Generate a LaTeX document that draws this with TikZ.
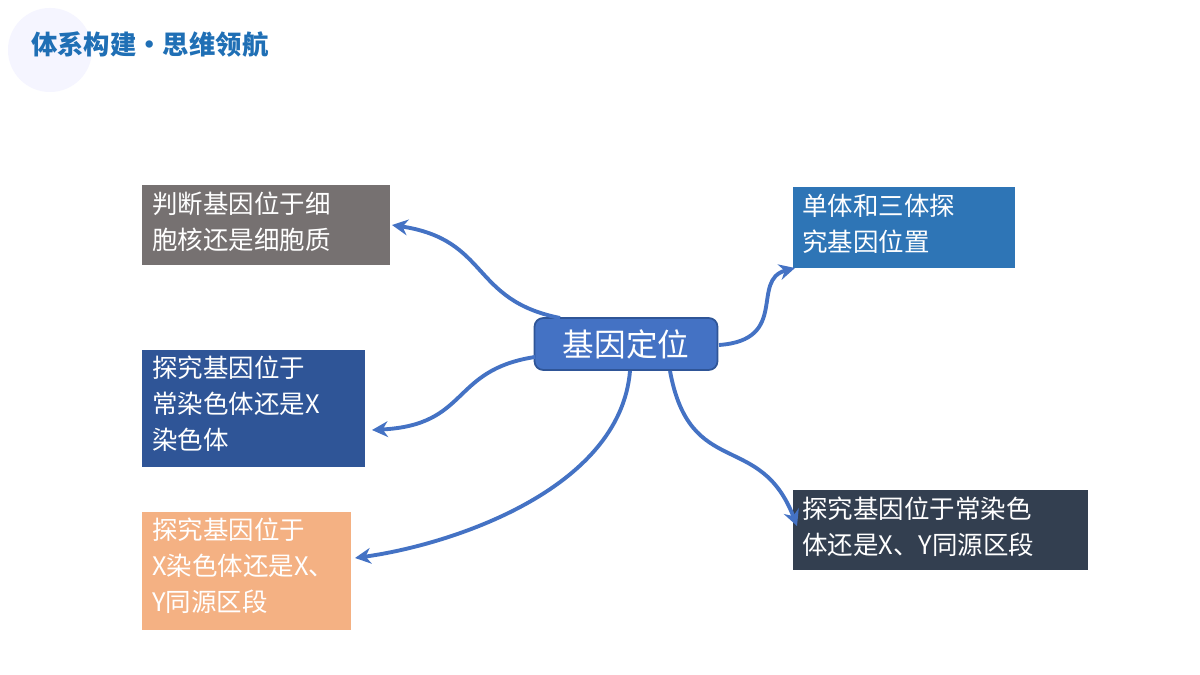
\documentclass[tikz,border=0pt]{standalone}
\usepackage{fontspec}
\setmainfont{Noto Sans CJK SC}
\usetikzlibrary{arrows.meta}
\definecolor{cgray}{HTML}{767171}
\definecolor{cblue}{HTML}{2F5597}
\definecolor{corange}{HTML}{F4B183}
\definecolor{cmid}{HTML}{2E75B6}
\definecolor{cnavy}{HTML}{333F50}
\definecolor{ccenter}{HTML}{4472C4}
\definecolor{ctitle}{HTML}{1F6FB5}
\begin{document}
\begin{tikzpicture}[x=0.02cm,y=-0.02cm,
  box/.style={anchor=north west,inner sep=0pt,text=white,font=\fontsize{14.5}{20.5}\selectfont,align=left},
  arr/.style={draw=ccenter,line width=2.2pt,-{Stealth[length=9pt,width=9pt]}}]
\useasboundingbox (0,0) rectangle (1200,675);
\fill[white] (0,0) rectangle (1200,675);
\fill[blue!4] (50,50) circle (42);
\node[anchor=west,text=ctitle,font=\fontsize{15}{18}\selectfont\bfseries] (title) at (25,45) {体系构建·思维领航};
\fill[cgray] (142,185) rectangle (390,265);
\node[box] (a) at (152,192) {判断基因位于细\\胞核还是细胞质};
\fill[cblue] (142,350) rectangle (365,467);
\node[box] (b) at (152,356) {探究基因位于\\常染色体还是X\\染色体};
\fill[corange] (142,512) rectangle (351,630);
\node[box] (c) at (152,518) {探究基因位于\\X染色体还是X、\\Y同源区段};
\fill[cmid] (793,187) rectangle (1015,268);
\node[box] (d) at (802,194) {单体和三体探\\究基因位置};
\fill[cnavy] (793,490) rectangle (1088,570);
\node[box] (e) at (802,497) {探究基因位于常染色\\体还是X、Y同源区段};
\node[draw=cblue,line width=1pt,fill=ccenter,rounded corners=5pt,text=white,
  minimum width=183*0.02cm,minimum height=52*0.02cm,font=\fontsize{18}{20}\selectfont] (m) at (626,344) {基因定位};
\coordinate (ta) at (392,225);
\coordinate (tb) at (372,430);
\coordinate (tc) at (355,558);
\coordinate (td) at (795,268);
\coordinate (te) at (797,526);
\draw[arr] (560,318) .. controls (470,300) and (490,240) .. (ta);
\draw[arr] (535,357) .. controls (450,370) and (470,425) .. (tb);
\draw[arr] (630,371) .. controls (620,490) and (450,545) .. (tc);
\draw[arr] (719,345) .. controls (790,340) and (750,280) .. (td);
\draw[arr] (670,371) .. controls (690,480) and (760,430) .. (te);
\end{tikzpicture}
\end{document}
